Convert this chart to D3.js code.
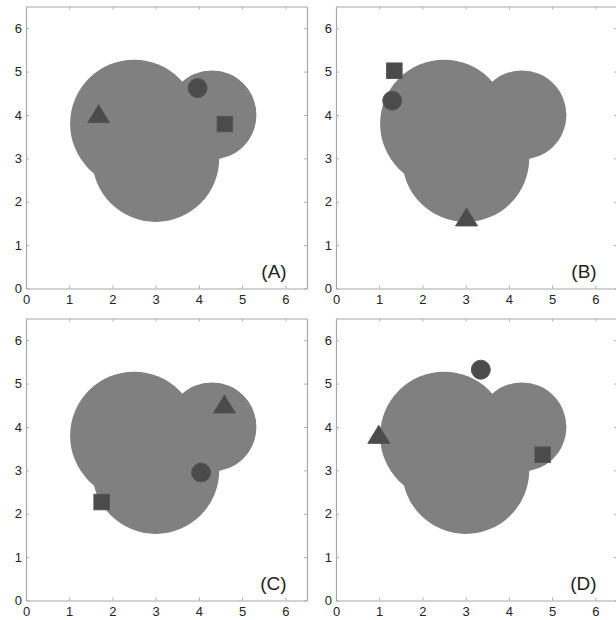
<!DOCTYPE html>
<html>
<head>
<meta charset="utf-8">
<script src="https://cdn.jsdelivr.net/npm/d3@7/dist/d3.min.js"></script>
<style>
  html, body { margin: 0; padding: 0; background: #fff; }
  svg { display: block; }
  text { font-family: "Liberation Sans", Arial, sans-serif; fill: #222; }
</style>
</head>
<body>
<div id="chart"></div>
<script>
// Panel labels
const panelLabels = ["(A)", "(B)", "(C)", "(D)"];

// Shared grey region: three overlapping discs (centre x, centre y, radius in data units)
const discX = [2.5, 3.0, 4.3];
const discY = [3.8, 3.0, 4.0];
const discR = [1.48, 1.47, 1.03];

// Marker positions for each panel (A, B, C, D)
const circleX   = [3.97, 1.30, 4.05, 3.35];
const circleY   = [4.62, 4.33, 2.95, 5.32];
const squareX   = [4.60, 1.35, 1.75, 4.78];
const squareY   = [3.79, 5.02, 2.27, 3.36];
const triangleX = [1.68, 3.02, 4.59, 0.99];
const triangleY = [4.03, 1.65, 4.53, 3.83];

// Axis ticks
const tickValues = [0, 1, 2, 3, 4, 5, 6];
const axisDomain = [0, 6.5];

const W = 616, H = 620;
const colLeft = [26, 336];
const rowTop = [6.5, 318.5];
const pw = 281, ph = 282;

const svg = d3.select("#chart").append("svg")
  .attr("width", W).attr("height", H);

panelLabels.forEach((label, i) => {
  const left = colLeft[i % 2];
  const top = rowTop[Math.floor(i / 2)];
  const x = d3.scaleLinear().domain(axisDomain).range([left, left + pw]);
  const y = d3.scaleLinear().domain(axisDomain).range([top + ph, top]);
  const g = svg.append("g");

  // grey discs
  g.selectAll("circle.disc").data(d3.range(discX.length)).join("circle")
    .attr("class", "disc")
    .attr("cx", k => x(discX[k]))
    .attr("cy", k => y(discY[k]))
    .attr("r", k => x(discR[k]) - x(0))
    .attr("fill", "#808080");

  const mk = "#4b4b4b", mkEdge = "#555";

  // round marker
  g.append("circle")
    .attr("cx", x(circleX[i])).attr("cy", y(circleY[i])).attr("r", 9.5)
    .attr("fill", mk).attr("stroke", mkEdge).attr("stroke-width", 1);

  // square marker
  const s = 15.5;
  g.append("rect")
    .attr("x", x(squareX[i]) - s / 2).attr("y", y(squareY[i]) - s / 2)
    .attr("width", s).attr("height", s)
    .attr("fill", mk).attr("stroke", mkEdge).attr("stroke-width", 1);

  // triangle marker
  const tx = x(triangleX[i]), ty = y(triangleY[i]);
  const tw = 22, th = 18;
  g.append("path")
    .attr("d", `M${tx},${ty - th / 2}L${tx + tw / 2},${ty + th / 2}L${tx - tw / 2},${ty + th / 2}Z`)
    .attr("fill", mk).attr("stroke", mkEdge).attr("stroke-width", 1);

  // axes: bottom/left labelled, top/right mirrored ticks only
  const tickLen = 3;
  const axisB = d3.axisBottom(x).tickValues(tickValues).tickSizeInner(-tickLen).tickSizeOuter(0).tickPadding(6).tickFormat(d3.format("d"));
  const axisL = d3.axisLeft(y).tickValues(tickValues).tickSizeInner(-tickLen).tickSizeOuter(0).tickPadding(4).tickFormat(d3.format("d"));
  const axisT = d3.axisTop(x).tickValues(tickValues).tickSizeInner(-tickLen).tickSizeOuter(0).tickFormat("");
  const axisR = d3.axisRight(y).tickValues(tickValues).tickSizeInner(-tickLen).tickSizeOuter(0).tickFormat("");

  const ax = [
    g.append("g").attr("transform", `translate(0,${top + ph})`).call(axisB),
    g.append("g").attr("transform", `translate(${left},0)`).call(axisL),
    g.append("g").attr("transform", `translate(0,${top})`).call(axisT),
    g.append("g").attr("transform", `translate(${left + pw},0)`).call(axisR)
  ];
  ax.forEach(a => {
    a.select(".domain").attr("stroke", "#a8a8a8").attr("stroke-width", 1.2);
    a.selectAll(".tick line").attr("stroke", "#b0b0b0");
    a.selectAll(".tick text").attr("font-size", 13).attr("fill", "#1e1e1e")
      .attr("font-family", "'Liberation Sans', Arial, sans-serif");
  });

  // panel label
  g.append("text")
    .attr("x", x(6.03)).attr("y", y(0.24))
    .attr("text-anchor", "end")
    .attr("font-size", 19)
    .text(label);
});
</script>
</body>
</html>
